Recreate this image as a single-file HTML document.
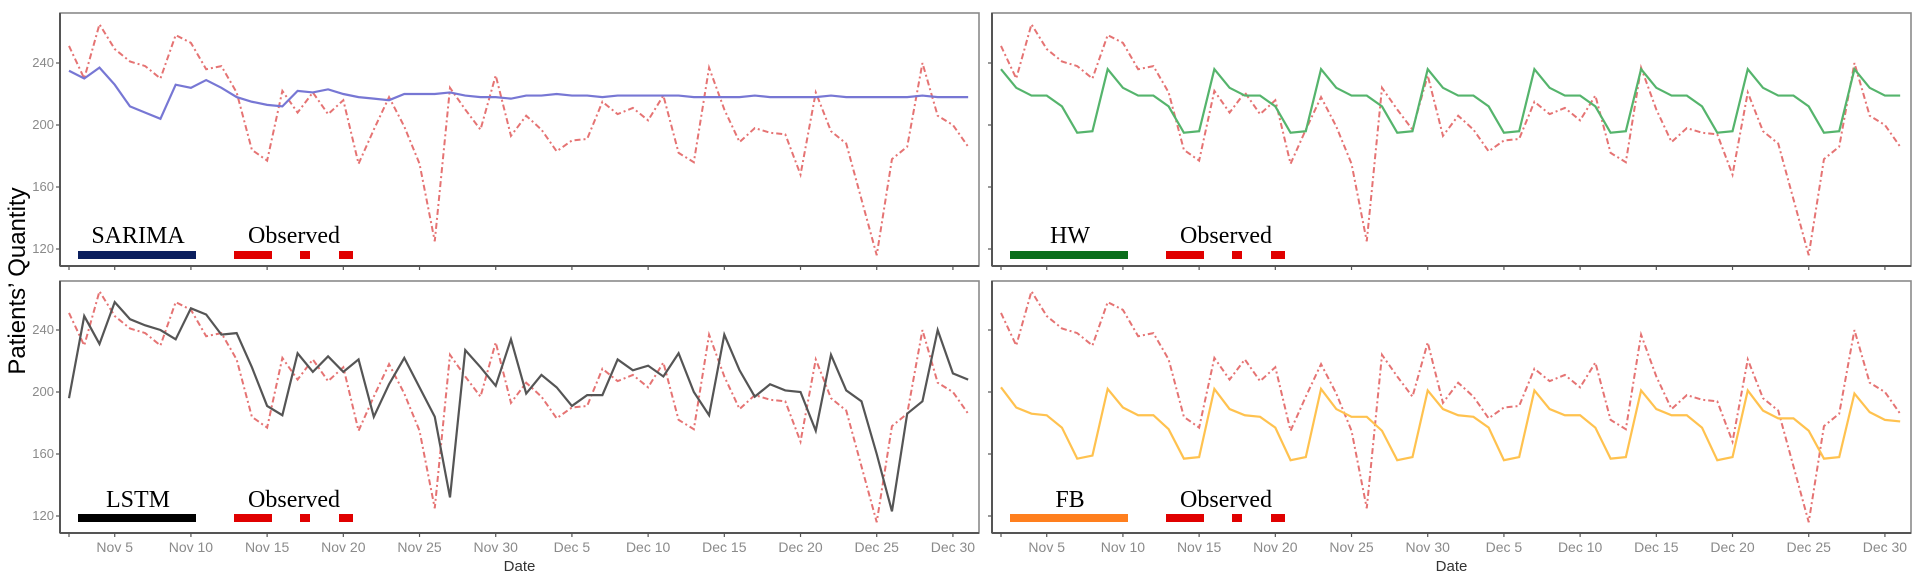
<!DOCTYPE html>
<html><head><meta charset="utf-8">
<style>
html,body{margin:0;padding:0;background:#fff;}
svg{display:block;}
.tick{font-family:"Liberation Sans",sans-serif;font-size:13px;fill:#8a8a8a;}
.leg{font-family:"Liberation Serif",serif;font-size:24px;fill:#000;}
</style></head>
<body>
<svg id="chart" width="1919" height="583" viewBox="0 0 1919 583">
<text x="0" y="0" transform="translate(25,281) rotate(-90)" text-anchor="middle" font-family="Liberation Sans, sans-serif" font-size="24" fill="#000">Patients’ Quantity</text>
</svg>
<script>
const observed=[251,230,265,249,241,238,230,258,253,236,238,221,184,177,222,208,221,207,216,175,197,218,199,175,125,224,210,197,232,193,206,197,183,190,191,215,207,211,203,219,182,176,237,210,189,198,195,194,168,221,196,188,152,116,178,186,240,206,200,186];
const sarima=[235,230,237,226,212,208,204,226,224,229,224,218,215,213,212,222,221,223,220,218,217,216,220,220,220,221,219,218,218,217,219,219,220,219,219,218,219,219,219,219,219,218,218,218,218,219,218,218,218,218,219,218,218,218,218,218,219,218,218,218];
const hw=[236,224,219,219,212,195,196,236,224,219,219,212,195,196,236,224,219,219,212,195,196,236,224,219,219,212,195,196,236,224,219,219,212,195,196,236,224,219,219,212,195,196,236,224,219,219,212,195,196,236,224,219,219,212,195,196,236,224,219,219];
const lstm=[196,249,231,258,247,243,240,234,254,250,237,238,216,191,185,225,213,223,213,221,184,205,222,203,184,132,227,216,204,234,199,211,203,191,198,198,221,214,217,210,225,200,185,237,214,197,205,201,200,175,224,201,194,160,123,186,194,240,212,208];
const fb=[203,190,186,185,177,157,159,202,190,185,185,176,157,158,202,189,185,184,177,156,158,202,189,184,184,175,156,158,201,189,185,184,177,156,158,201,189,185,185,177,157,158,201,189,185,185,177,156,158,201,188,183,183,175,157,158,199,187,182,181];
const tickDays=[0,3,8,13,18,23,28,33,38,43,48,53,58];
const tickLabels=["","Nov 5","Nov 10","Nov 15","Nov 20","Nov 25","Nov 30","Dec 5","Dec 10","Dec 15","Dec 20","Dec 25","Dec 30"];
const yTicks=[120,160,200,240];

const svg=document.getElementById('chart');
const NS='http://www.w3.org/2000/svg';
function mk(tag,attrs,parent){const e=document.createElementNS(NS,tag);for(const k in attrs)e.setAttribute(k,attrs[k]);(parent||svg).appendChild(e);return e;}

const panels=[
 {name:'sarima',x0:60,x1:979,y0:13,y1:266,x0d:69,series:sarima,color:'#7777d4',leg:'SARIMA',legColor:'#0b1f5e',labelsY:true,labelsX:false},
 {name:'hw',x0:992,x1:1911,y0:13,y1:266,x0d:1001,series:hw,color:'#55b46c',leg:'HW',legColor:'#0a6e1c',labelsY:false,labelsX:false},
 {name:'lstm',x0:60,x1:979,y0:281,y1:533,x0d:69,series:lstm,color:'#555555',leg:'LSTM',legColor:'#000000',labelsY:true,labelsX:true},
 {name:'fb',x0:992,x1:1911,y0:281,y1:533,x0d:1001,series:fb,color:'#ffc24f',leg:'FB',legColor:'#ff7f1e',labelsY:false,labelsX:true}
];
const dayW=15.24;
panels.forEach(p=>{
  const top=p.y0===13;
  const y240=top?63:330, per40=62;
  const yS=v=>y240+(240-v)*per40/40;
  const xS=i=>p.x0d+i*dayW;
  const g=mk('g',{});
  
  
  const fr=mk('rect',{x:p.x0,y:p.y0,width:p.x1-p.x0,height:p.y1-p.y0,fill:'none',stroke:'#8a8a8a','stroke-width':1.6},g);
  
  
  mk('line',{x1:p.x0,y1:p.y1,x2:p.x1,y2:p.y1,stroke:'#555','stroke-width':2},g);
  mk('line',{x1:p.x0,y1:p.y0,x2:p.x0,y2:p.y1,stroke:'#555','stroke-width':2},g);
  yTicks.forEach(v=>{
    mk('line',{x1:p.x0-4,y1:yS(v),x2:p.x0,y2:yS(v),stroke:'#555','stroke-width':1.2},g);
    if(p.labelsY){const t=mk('text',{x:p.x0-6,y:yS(v)+4,'text-anchor':'end',class:'tick'},g);t.textContent=v;
      
      }
  });
  tickDays.forEach((d,k)=>{
    mk('line',{x1:xS(d),y1:p.y1,x2:xS(d),y2:p.y1+4,stroke:'#555','stroke-width':1.2},g);
    if(p.labelsX&&tickLabels[k]){const t=mk('text',{x:xS(d),y:552,'text-anchor':'middle',class:'tick',style:'font-size:14px'},g);t.textContent=tickLabels[k];
      
      }
  });
  if(p.labelsX){const t=mk('text',{x:(p.x0+p.x1)/2,y:571,'text-anchor':'middle','font-family':'Liberation Sans, sans-serif','font-size':15,fill:'#333'},g);t.textContent='Date';
    
    }
  const obs=mk('polyline',{points:observed.map((v,i)=>xS(i)+','+yS(v)).join(' '),fill:'none',stroke:'#e05a5a','stroke-width':2,'stroke-dasharray':'6,3,2,3','stroke-opacity':0.85},g);
  
  
  const ln=mk('polyline',{points:p.series.map((v,i)=>xS(i)+','+yS(v)).join(' '),fill:'none',stroke:p.color,'stroke-width':2.2},g);
  
  
  // legend
  const off=p.x0d-69;
  const ly=top?251:514, ty=top?243:507;
  const lb=mk('rect',{x:78+off,y:ly,width:118,height:8,fill:p.legColor},g);
  
  
  const lt=mk('text',{x:138+off,y:ty,'text-anchor':'middle',class:'leg'},g);lt.textContent=p.leg;
  
  
  const ot=mk('text',{x:294+off,y:ty,'text-anchor':'middle',class:'leg'},g);ot.textContent='Observed';
  
  
  [[234,38],[300,10],[339,14]].forEach(s=>{
    const r=mk('rect',{x:s[0]+off,y:ly,width:s[1],height:8,fill:'#e00000'},g);
    
    
  });
});
</script>
</body></html>
